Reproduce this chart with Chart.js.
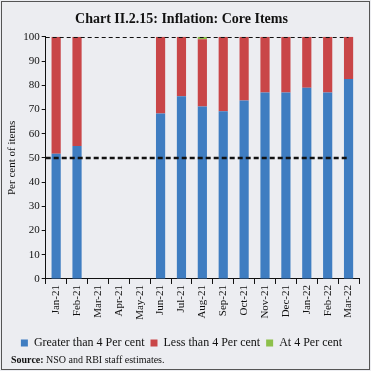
<!DOCTYPE html>
<html>
<head>
<meta charset="utf-8">
<script src="https://cdn.jsdelivr.net/npm/chart.js@4.4.0/dist/chart.umd.min.js"></script>
<style>
  html, body { margin: 0; padding: 0; background: #fff; }
  #wrap { width: 371px; height: 371px; position: relative; }
  canvas { display: block; }
</style>
</head>
<body>
<div id="wrap"><canvas id="graph" width="371" height="371"></canvas></div>
<script>
const months = ["Jan-21","Feb-21","Mar-21","Apr-21","May-21","Jun-21","Jul-21","Aug-21","Sep-21","Oct-21","Nov-21","Dec-21","Jan-22","Feb-22","Mar-22"];
const greater = [51.7, 54.9, null, null, null, 68.3, 75.5, 71.2, 69.3, 73.7, 77.0, 77.0, 79.0, 77.0, 82.6];
const less    = [48.3, 45.1, null, null, null, 31.7, 24.5, 27.8, 30.7, 26.3, 23.0, 23.0, 21.0, 23.0, 17.4];
const atFour  = [0, 0, null, null, null, 0, 0, 1.0, 0, 0, 0, 0, 0, 0, 0];
const refLines = [100, 50];

const serif = "'Liberation Serif', 'DejaVu Serif', serif";

// background, frame, dashed reference lines and source note
const decor = {
    id: 'decor',
    beforeDraw(chart) {
        const c = chart.ctx;
        c.save();
        c.fillStyle = '#ECEDF1';
        c.fillRect(0, 0, chart.width, chart.height);
        c.strokeStyle = '#555';
        c.lineWidth = 1;
        c.strokeRect(1.5, 1.5, chart.width - 3, chart.height - 3);
        c.restore();
    },
    afterDatasetsDraw(chart) {
        const c = chart.ctx;
        const x = chart.scales.x, y = chart.scales.y;
        const x0 = chart.chartArea.left;
        const x1 = x.getPixelForValue(months.length - 1);
        c.save();
        c.strokeStyle = '#111';
        refLines.forEach((v, i) => {
            const py = Math.round(y.getPixelForValue(v)) + (i == 0 ? 0.5 : 0);
            c.lineWidth = i == 0 ? 1 : 2.5;
            c.setLineDash(i == 0 ? [4, 3] : [5, 3]);
            c.beginPath();
            c.moveTo(x0, py);
            c.lineTo(x1, py);
            c.stroke();
        });
        c.restore();
    },
    afterDraw(chart) {
        const c = chart.ctx;
        c.save();
        c.fillStyle = '#111';
        c.textBaseline = 'alphabetic';
        c.font = "bold 10px " + serif;
        c.fillText("Source:", 11, 363);
        const w = c.measureText("Source: ").width;
        c.font = "10px " + serif;
        c.fillText("NSO and RBI staff estimates.", 11 + w, 363);
        c.restore();
    }
};

const ctx = document.getElementById('graph').getContext('2d');
new Chart(ctx, {
    type: 'bar',
    data: {
        labels: months,
        datasets: [
            { label: 'Greater than 4 Per cent', data: greater, backgroundColor: '#3F7DC1' },
            { label: 'Less than 4 Per cent', data: less, backgroundColor: '#C94648' },
            { label: 'At 4 Per cent', data: atFour, backgroundColor: '#8DC04B' }
        ]
    },
    options: {
        responsive: false,
        animation: false,
        layout: { padding: { left: 4, right: 12, top: 6, bottom: 12 } },
        datasets: { bar: { barPercentage: 0.44, categoryPercentage: 1 } },
        scales: {
            x: {
                stacked: true,
                grid: { offset: true, drawOnChartArea: false, color: '#111', tickLength: 5 },
                border: { color: '#111' },
                ticks: { color: '#111', font: { family: serif, size: 11 }, maxRotation: 90, minRotation: 90, padding: 1 }
            },
            y: {
                stacked: true,
                min: 0, max: 100,
                grid: { drawOnChartArea: false, color: '#111', tickLength: 4 },
                border: { color: '#111' },
                ticks: { stepSize: 10, color: '#111', font: { family: serif, size: 11 }, padding: 2 },
                title: { display: true, text: 'Per cent of items', color: '#111', font: { family: serif, size: 11 }, padding: 2 }
            }
        },
        plugins: {
            title: {
                display: true,
                text: 'Chart II.2.15: Inflation: Core Items',
                color: '#111',
                font: { family: serif, size: 14, weight: 'bold' },
                padding: { top: 5, bottom: 9 }
            },
            legend: {
                position: 'bottom',
                title: { display: true, text: ' ', font: { size: 1 }, padding: { top: 0, bottom: 9 } },
                labels: { color: '#111', font: { family: serif, size: 12 }, boxWidth: 7, boxHeight: 7, padding: 6 }
            },
            tooltip: { enabled: false }
        }
    },
    plugins: [decor]
});
</script>
</body>
</html>
